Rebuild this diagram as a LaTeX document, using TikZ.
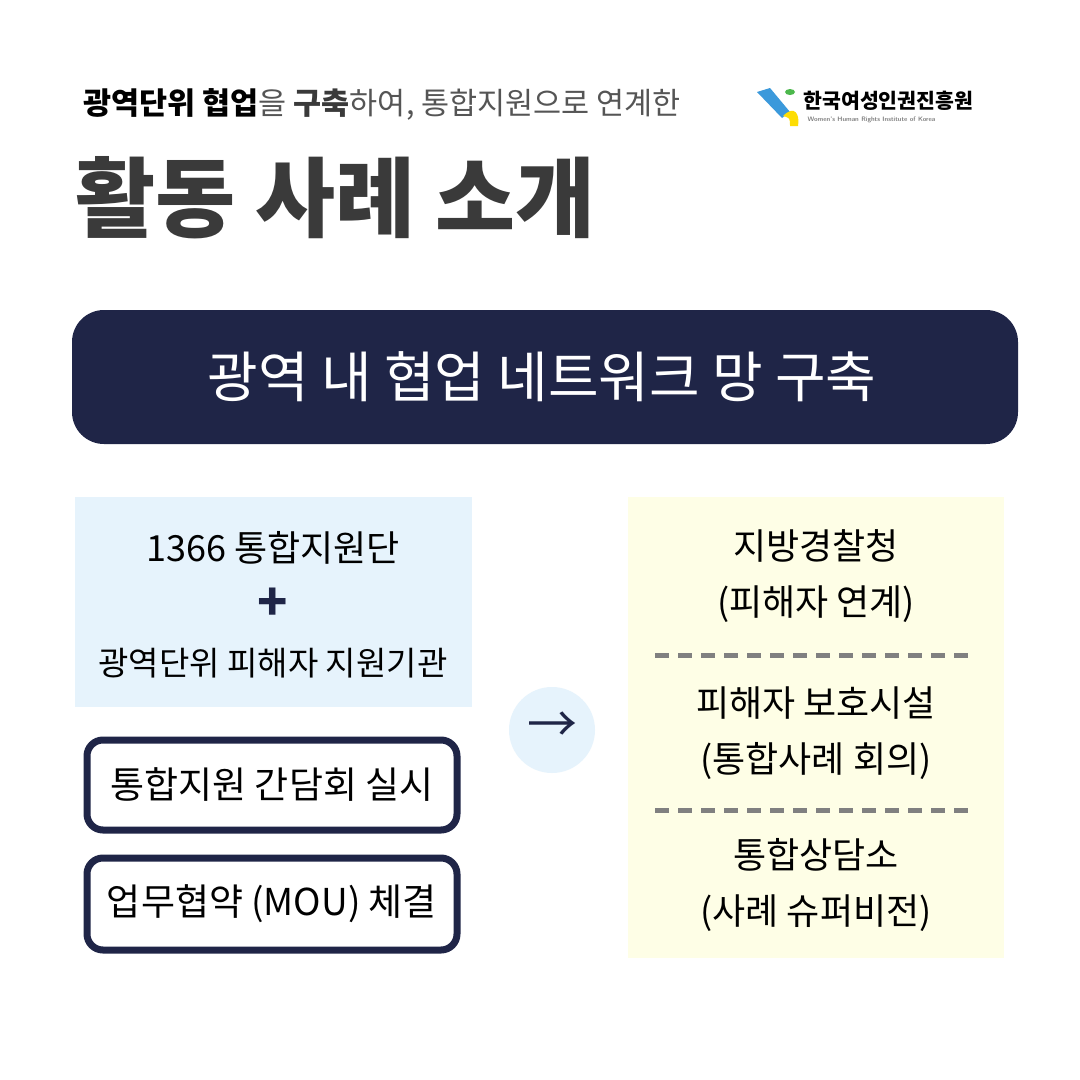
\documentclass[tikz,border=0pt]{standalone}
\usepackage{fontspec}
\setmainfont{Noto Sans CJK KR}
\definecolor{navy}{HTML}{1F2547}
\definecolor{lblue}{HTML}{E6F3FC}
\definecolor{lyel}{HTML}{FEFEE6}
\definecolor{dgray}{HTML}{3A3A3A}
\definecolor{mgray}{HTML}{555555}
\begin{document}
\begin{tikzpicture}[x=1pt,y=-1pt,
 txt/.style={font=\fontsize{36}{56}\selectfont,text=black,align=center},
 pill/.style={draw=navy,line width=7pt,rounded corners=16pt,fill=white}]
\useasboundingbox (0,0) rectangle (1080,1080);
\fill[white] (0,0) rectangle (1080,1080);
\node[anchor=west,font=\fontsize{30.5}{34}\selectfont] (sub) at (80,104) {\textcolor{black}{\bfseries 광역단위 협업}\textcolor{mgray}{을 }\textcolor{dgray}{\bfseries 구축}\textcolor{mgray}{하여, 통합지원으로 연계한}};
\node[anchor=west,font=\fontsize{87}{95}\selectfont\bfseries,text=dgray] (title) at (72,198) {활동 사례 소개};
% logo
\fill[cyan!70!blue!80] (757,92) -- (770,88) -- (790,112) -- (782,118) -- cycle;
\fill[yellow!80!orange] (783,116) .. controls (795,104) and (800,115) .. (798,126) -- (790,126) .. controls (790,118) .. (783,116);
\fill[green!60!black!70] (790,92) ellipse (5pt and 3pt);
\node[anchor=west,font=\fontsize{20.5}{24}\selectfont\bfseries] (logo) at (800,101) {한국여성인권진흥원};
\node[anchor=west,font=\fontsize{6.5}{8}\selectfont\bfseries\sffamily,text=gray] (logoen) at (804,120) {Women's Human Rights Institute of Korea};
% banner
\fill[navy,rounded corners=32pt] (72,310) rectangle (1018,444);
\node[font=\fontsize{55}{60}\selectfont,text=white] (banner) at (542,377) {광역 내 협업 네트워크 망 구축};
% left
\fill[lblue] (75,497) rectangle (472,707);
\node[txt] (l1) at (273,548) {1366 통합지원단};
\node[font=\fontsize{50}{50}\selectfont\bfseries,text=navy] (plus) at (273,604) {+};
\node[txt,font=\fontsize{33}{40}\selectfont] (l2) at (273,663) {광역단위 피해자 지원기관};
\draw[pill] (87,740) rectangle (457,830);
\node[txt,font=\fontsize{37}{40}\selectfont] (b1) at (272,785) {통합지원 간담회 실시};
\draw[pill] (87,858) rectangle (457,950);
\node[txt,font=\fontsize{37}{40}\selectfont] (b2) at (272,904) {업무협약 (MOU) 체결};
% arrow
\fill[lblue] (552,730) circle (43pt);
\node[font=\fontsize{50}{50}\selectfont,text=navy] (arr) at (552,727) {→};
% right
\fill[lyel] (628,497) rectangle (1004,958);
\node[txt] (r1) at (816,576) {지방경찰청\\(피해자 연계)};
\draw[gray,line width=5pt,dash pattern=on 14pt off 9pt] (655,655) -- (975,655);
\node[txt] (r2) at (816,733) {피해자 보호시설\\(통합사례 회의)};
\draw[gray,line width=5pt,dash pattern=on 14pt off 9pt] (655,810) -- (975,810);
\node[txt] (r3) at (816,885) {통합상담소\\(사례 슈퍼비전)};
\end{tikzpicture}
\end{document}
